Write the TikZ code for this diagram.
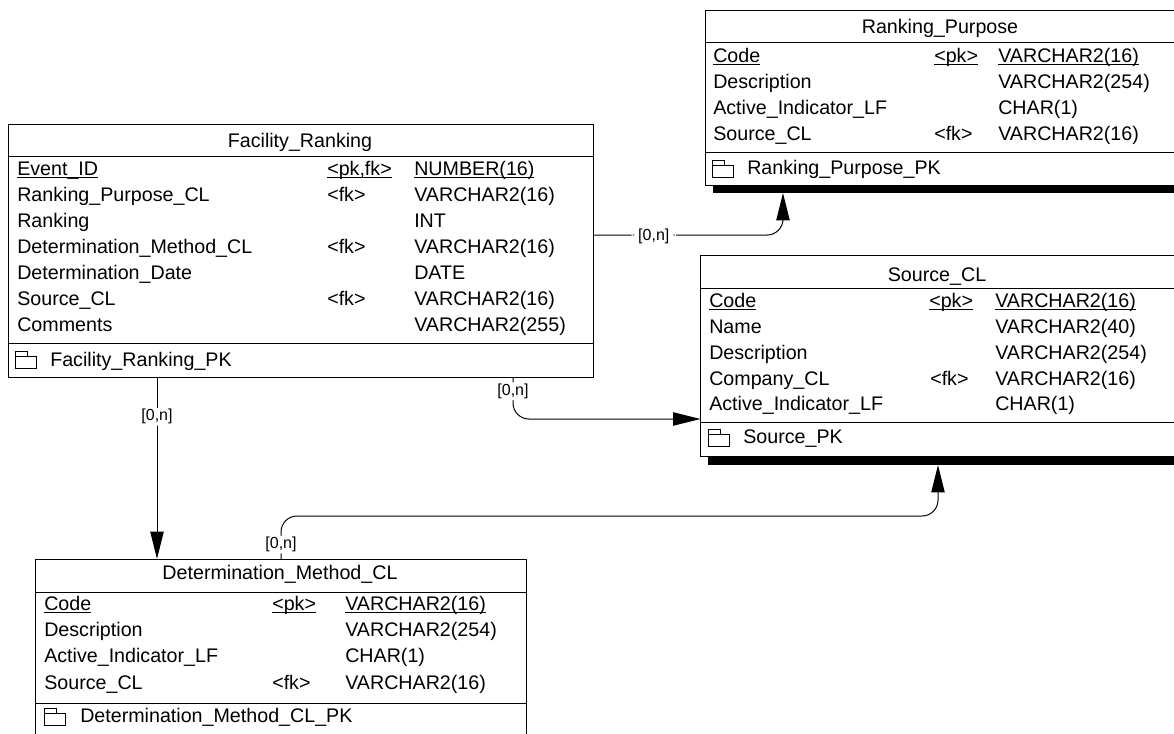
\documentclass[tikz,border=0pt]{standalone}
\usepackage{fontspec}
\setmainfont{Liberation Sans}
\usetikzlibrary{arrows.meta}
\newcommand{\keyline}[1]{\setbox0\hbox{#1}\rlap{\rule[-2.3pt]{\wd0}{0.95pt}}\box0}
\tikzset{
	entity/.style={draw,line width=0.75pt,fill=white,rectangle,inner sep=0pt,outer sep=0pt},
	heavy/.style={fill=black,rectangle,inner sep=0pt,outer sep=0pt},
	rowtext/.style={anchor=base west,inner sep=0pt,font=\fontsize{14.75}{17}\selectfont},
	titletext/.style={anchor=base,inner sep=0pt,font=\fontsize{14.75}{17}\selectfont},
	multi/.style={fill=white,inner xsep=5pt,inner ysep=1pt,yshift=-1.2pt,font=\fontsize{12}{14}\selectfont},
	link/.style={draw=black,line width=0.75pt,rounded corners=12pt},
	linkend/.style={-{Triangle[length=20.5pt,width=10pt]}},
	pkicon/.pic={
		\draw [line width=0.6pt] (0,-3) rectangle (21,9);
		\draw [line width=0.6pt] (0,-3) -- (0,-8) -- (12,-8) -- (12,-3);
	}
}
\begin{document}
\begin{tikzpicture}[x=0.75pt,y=-0.75pt]
	\useasboundingbox (0,0) rectangle (1174,733);
	\clip (0,0) rectangle (1174,733);

	\begin{scope}
		\node [heavy,minimum width=347.25pt,minimum height=6pt] (RPshadow) at (944.5,189) {};
		\node [heavy,minimum width=351pt,minimum height=6.75pt] (SCshadow) at (942,460.5) {};
	\end{scope}

	\node [entity,minimum width=353.25pt,minimum height=131.25pt] (RP) at (940.5,97.5) {};
	\node [entity,minimum width=356.25pt,minimum height=150.75pt] (SC) at (938,355.5) {};
	\node [entity,minimum width=438.75pt,minimum height=189.75pt] (FR) at (300.5,250.5) {};
	\node [entity,minimum width=368.25pt,minimum height=132pt] (DM) at (280.5,647) {};

	% compartment rules
	\draw [line width=0.75pt] (RP.west |- 0,42) -- (RP.east |- 0,42);
	\draw [line width=0.75pt] (RP.west |- 0,152) -- (RP.east |- 0,152);
	\draw [line width=0.75pt] (SC.west |- 0,288) -- (SC.east |- 0,288);
	\draw [line width=0.75pt] (SC.west |- 0,422) -- (SC.east |- 0,422);
	\draw [line width=0.75pt] (FR.west |- 0,156) -- (FR.east |- 0,156);
	\draw [line width=0.75pt] (FR.west |- 0,343) -- (FR.east |- 0,343);
	\draw [line width=0.75pt] (DM.west |- 0,592) -- (DM.east |- 0,592);
	\draw [line width=0.75pt] (DM.west |- 0,703) -- (DM.east |- 0,703);

	\begin{scope}[every node/.style={titletext}]
		\node (RPtitle) at (940,33) {Ranking\_Purpose};
		\node (SCtitle) at (937,281) {Source\_CL};
		\node (FRtitle) at (300,147) {Facility\_Ranking};
		\node (DMtitle) at (280,579) {Determination\_Method\_CL};
	\end{scope}

	\begin{scope}[every node/.style={rowtext}]
		\node (RPa1) at (713,62) {\keyline{Code}};
		\node (RPa2) at (934,62) {\keyline{<pk>}};
		\node (RPa3) at (998,62) {\keyline{VARCHAR2(16)}};
		\node (RPb1) at (713,88) {Description};
		\node (RPb3) at (998,88) {VARCHAR2(254)};
		\node (RPc1) at (713,114) {Active\_Indicator\_LF};
		\node (RPc3) at (998,114) {CHAR(1)};
		\node (RPd1) at (713,140) {Source\_CL};
		\node (RPd2) at (934,140) {<fk>};
		\node (RPd3) at (998,140) {VARCHAR2(16)};
		\node (RPkey) at (747,174.5) {Ranking\_Purpose\_PK};

		\node (SCa1) at (709,307) {\keyline{Code}};
		\node (SCa2) at (929,307) {\keyline{<pk>}};
		\node (SCa3) at (995,307) {\keyline{VARCHAR2(16)}};
		\node (SCb1) at (709,333) {Name};
		\node (SCb3) at (995,333) {VARCHAR2(40)};
		\node (SCc1) at (709,359) {Description};
		\node (SCc3) at (995,359) {VARCHAR2(254)};
		\node (SCd1) at (709,385) {Company\_CL};
		\node (SCd2) at (930,385) {<fk>};
		\node (SCd3) at (995,385) {VARCHAR2(16)};
		\node (SCe1) at (709,410) {Active\_Indicator\_LF};
		\node (SCe3) at (995,410) {CHAR(1)};
		\node (SCkey) at (743,443.5) {Source\_PK};

		\node (FRa1) at (17,175) {\keyline{Event\_ID}};
		\node (FRa2) at (327,175) {\keyline{<pk,fk>}};
		\node (FRa3) at (414,175) {\keyline{NUMBER(16)}};
		\node (FRb1) at (17,201) {Ranking\_Purpose\_CL};
		\node (FRb2) at (327,201) {<fk>};
		\node (FRb3) at (414,201) {VARCHAR2(16)};
		\node (FRc1) at (17,227) {Ranking};
		\node (FRc3) at (414,227) {INT};
		\node (FRd1) at (17,253) {Determination\_Method\_CL};
		\node (FRd2) at (327,253) {<fk>};
		\node (FRd3) at (414,253) {VARCHAR2(16)};
		\node (FRe1) at (17,279) {Determination\_Date};
		\node (FRe3) at (414,279) {DATE};
		\node (FRf1) at (17,305) {Source\_CL};
		\node (FRf2) at (327,305) {<fk>};
		\node (FRf3) at (414,305) {VARCHAR2(16)};
		\node (FRg1) at (17,331) {Comments};
		\node (FRg3) at (414,331) {VARCHAR2(255)};
		\node (FRkey) at (50,366.5) {Facility\_Ranking\_PK};

		\node (DMa1) at (44,610) {\keyline{Code}};
		\node (DMa2) at (272,610) {\keyline{<pk>}};
		\node (DMa3) at (345,610) {\keyline{VARCHAR2(16)}};
		\node (DMb1) at (44,636) {Description};
		\node (DMb3) at (345,636) {VARCHAR2(254)};
		\node (DMc1) at (44,662) {Active\_Indicator\_LF};
		\node (DMc3) at (345,662) {CHAR(1)};
		\node (DMd1) at (44,689) {Source\_CL};
		\node (DMd2) at (272,689) {<fk>};
		\node (DMd3) at (345,689) {VARCHAR2(16)};
		\node (DMkey) at (80,722.5) {Determination\_Method\_CL\_PK};
	\end{scope}

	\pic at (712,168) {pkicon};
	\pic at (708,437) {pkicon};
	\pic at (15,359) {pkicon};
	\pic at (44,716) {pkicon};

	\path [link,linkend] (FR.east |- 0,235) -- node [multi,pos=0.32] (RPmulti) {[0,n]} (783,235) -- (RPshadow.south -| 783,0);
	\path [link,linkend] (FR.south -| 513,0) -- node [multi,pos=0.3] (SCmulti) {[0,n]} (513,419) -- (SC.west |- 0,419);
	\path [link,linkend] (FR.south -| 157,0) -- node [multi,pos=0.21] (DMmulti) {[0,n]} (DM.north -| 157,0);
	\path [link,linkend] (DM.north -| 281,0) -- node [multi,pos=0.37] (SCmultib) {[0,n]} (281,516) -- (938,516) -- (SCshadow.south -| 938,0);
\end{tikzpicture}
\end{document}
